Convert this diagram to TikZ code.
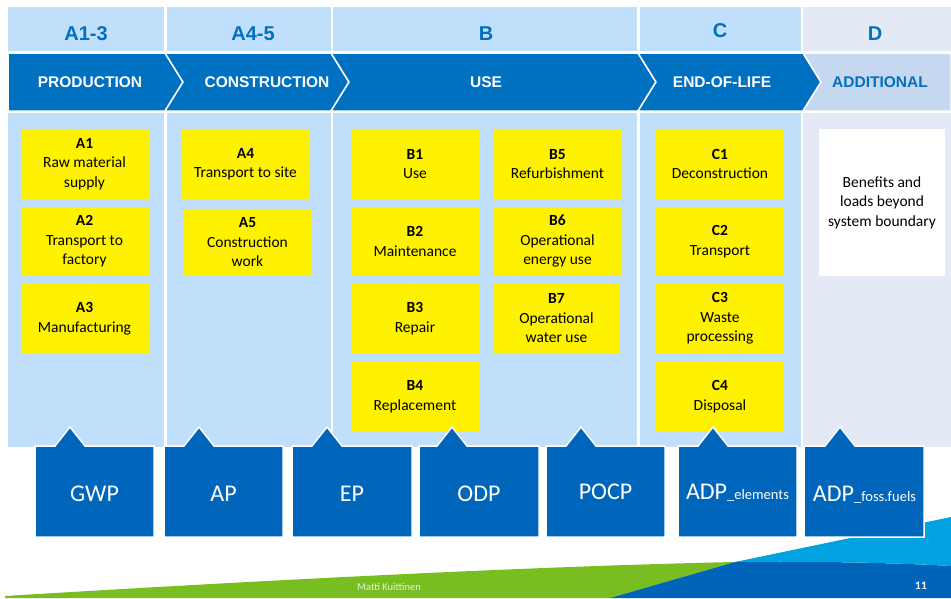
\documentclass[tikz,border=0pt]{standalone}
\usepackage{fontspec}
\setmainfont{Carlito}
\newfontfamily\headfont{Liberation Sans}
\usetikzlibrary{positioning}
\definecolor{cellblue}{RGB}{191,223,250}
\definecolor{dcell}{RGB}{227,234,246}
\definecolor{bandblue}{RGB}{0,112,192}
\definecolor{bandlight}{RGB}{197,216,239}
\definecolor{impblue}{RGB}{0,102,187}
\definecolor{wavegreen}{RGB}{121,190,32}
\definecolor{wavecyan}{RGB}{0,163,224}
\definecolor{wavedark}{RGB}{0,100,185}
\definecolor{footgrey}{RGB}{232,242,218}
\tikzset{cell/.style={fill=cellblue},
         band/.style={fill=bandblue,draw=white,line width=1.5pt},
         bandtext/.style={text=white,anchor=base,font=\headfont\bfseries\fontsize{15.5}{18}\selectfont},
         headtext/.style={text=bandblue,anchor=base,font=\headfont\bfseries\fontsize{20}{24}\selectfont},
         module/.style={fill=yellow,minimum width=128pt,minimum height=69pt,inner sep=0pt,align=center,font=\fontsize{15.5}{19.5}\selectfont},
         impact/.style={fill=impblue,draw=white,line width=1.5pt},
         impacttext/.style={text=white,anchor=base,font=\fontsize{24}{28}\selectfont}
}
\newcommand{\lowpart}[1]{{\fontsize{14.5}{16}\selectfont\_#1}}

\begin{document}
\begin{tikzpicture}[x=1pt,y=1pt,yscale=-1,xscale=1]
\useasboundingbox (0,0) rectangle (951,598);

%Header cells
\fill[cell] (8,7) rectangle (164,51);
\fill[cell] (167,7) rectangle (331,51);
\fill[cell] (333,7) rectangle (637,51);
\fill[cell] (640,7) rectangle (801,51);
\fill[dcell] (803,7) rectangle (951,51);
%Body cells
\fill[cell] (8,113) rectangle (164,447);
\fill[cell] (167,113) rectangle (331,447);
\fill[cell] (333,113) rectangle (637,447);
\fill[cell] (640,113) rectangle (801,447);
\fill[dcell] (803,113) rectangle (951,447);

%Chevrons
\draw[band] (8,53) -- (165,53) -- (183,82) -- (165,111) -- (8,111) -- cycle;
\draw[band] (165,53) -- (331,53) -- (349,82) -- (331,111) -- (165,111) -- (183,82) -- cycle;
\draw[band] (331,53) -- (638,53) -- (656,82) -- (638,111) -- (331,111) -- (349,82) -- cycle;
\draw[band] (638,53) -- (803,53) -- (821,82) -- (803,111) -- (638,111) -- (656,82) -- cycle;
\draw[band,fill=bandlight] (803,53) -- (951,53) -- (951,111) -- (803,111) -- (821,82) -- cycle;

% Text Node
\node[headtext] (hdA13) at (86,40.5) {A1-3};
\node[headtext] (hdA45) at (253,40.5) {A4-5};
\node[headtext] (hdB) at (486,40.5) {B};
\node[headtext] (hdC) at (720,37.5) {C};
\node[headtext] (hdD) at (875,40.5) {D};
% Text Node
\node[bandtext] (prod) at (90,87.5) {PRODUCTION};
\node[bandtext] (constr) at (267,87.5) {CONSTRUCTION};
\node[bandtext] (use) at (486,87.5) {USE};
\node[bandtext] (eol) at (722,87.5) {END-OF-LIFE};
\node[bandtext,text=bandblue] (addl) at (880,87.5) {ADDITIONAL};

%Modules
\node[module] (a1) at (84.5,164) {\textbf{A1}\\Raw material\\supply};
\node[module] (a2) at (84.5,241.5) {\textbf{A2}\\Transport to\\factory};
\node[module] (a3) at (84.5,318.5) {\textbf{A3}\\Manufacturing};
\node[module,minimum width=127pt] (a4) at (245.5,164) {\textbf{A4}\\Transport to site};
\node[module,minimum width=127pt,minimum height=67pt] (a5) at (247.5,242.5) {\textbf{A5}\\Construction\\work};
\node[module] (b1) at (415,164) {\textbf{B1}\\Use};
\node[module] (b2) at (415,241.5) {\textbf{B2}\\Maintenance};
\node[module] (b3) at (415,318.5) {\textbf{B3}\\Repair};
\node[module] (b4) at (415,396.5) {\textbf{B4}\\Replacement};
\node[module,minimum width=129pt] (b5) at (557.5,164) {\textbf{B5}\\Refurbishment};
\node[module,minimum width=129pt] (b6) at (557.5,241.5) {\textbf{B6}\\Operational\\energy use};
\node[module,minimum width=127pt] (b7) at (556.5,318.5) {\textbf{B7}\\Operational\\water use};
\node[module] (c1) at (720,164) {\textbf{C1}\\Deconstruction};
\node[module] (c2) at (720,241.5) {\textbf{C2}\\Transport};
\node[module] (c3) at (720,318.5) {\textbf{C3}\\Waste\\processing};
\node[module] (c4) at (720,396.5) {\textbf{C4}\\Disposal};
\node[module,fill=white,minimum width=126pt,minimum height=147pt] (dbox) at (882,202.5) {Benefits and\\loads beyond\\system boundary};

%Waves
\fill[wavegreen] (5,598) -- (5,596) .. controls (300,578) and (550,566) .. (735,562) -- (610,598) -- cycle;
\fill[wavedark] (610,598) -- (735,562) .. controls (820,561) and (900,563) .. (951,566) -- (951,598) -- cycle;
\fill[wavecyan] (735,562) -- (951,517) -- (951,566) .. controls (900,563) and (820,561) .. (735,562) -- cycle;

%Impact boxes
\draw[impact] (35,446) -- (55,446) -- (70,427) -- (85,446) -- (154,446) -- (154,537) -- (35,537) -- cycle;
\draw[impact] (164,446) -- (184,446) -- (199,427) -- (214,446) -- (283,446) -- (283,537) -- (164,537) -- cycle;
\draw[impact] (292,446) -- (312,446) -- (327,427) -- (342,446) -- (412,446) -- (412,537) -- (292,537) -- cycle;
\draw[impact] (419,446) -- (437,446) -- (452,427) -- (467,446) -- (539,446) -- (539,537) -- (419,537) -- cycle;
\draw[impact] (546,446) -- (566,446) -- (581,427) -- (596,446) -- (665,446) -- (665,537) -- (546,537) -- cycle;
\draw[impact] (678,446) -- (698,446) -- (713,427) -- (728,446) -- (797,446) -- (797,537) -- (678,537) -- cycle;
\draw[impact] (804,446) -- (825,446) -- (840,427) -- (855,446) -- (924,446) -- (924,537) -- (804,537) -- cycle;

% Text Node
\node[impacttext] (gwp) at (94.5,501) {GWP};
\node[impacttext] (ap) at (223.5,501) {AP};
\node[impacttext] (ep) at (352,501) {EP};
\node[impacttext] (odp) at (479,501) {ODP};
\node[impacttext] (pocp) at (605.5,499) {POCP};
\node[impacttext] (adpe) at (737.5,499.5) {ADP\lowpart{elements}};
\node[impacttext] (adpf) at (864.5,501) {ADP\lowpart{foss.fuels}};

% Text Node
\node[anchor=base,text=footgrey,font=\fontsize{10.5}{12}\selectfont] (author) at (389,590) {Matti Kuittinen};
\node[anchor=base,text=white,font=\bfseries\fontsize{11.5}{13}\selectfont] (pagenum) at (921,589) {11};

\end{tikzpicture}
\end{document}
